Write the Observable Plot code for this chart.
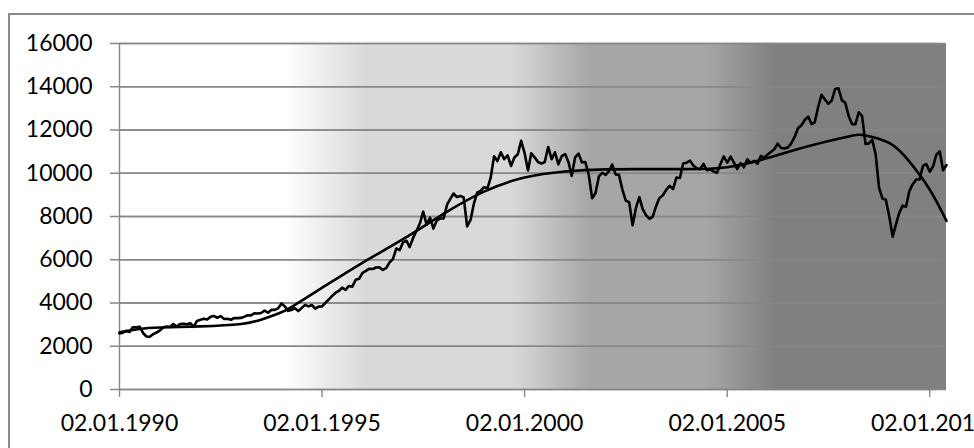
<!DOCTYPE html>
<html><head><meta charset="utf-8">
<script src="https://cdn.jsdelivr.net/npm/d3@7"></script>
<script src="https://cdn.jsdelivr.net/npm/@observablehq/plot@0.6"></script>
<style>
html,body{margin:0;padding:0;background:#fff;overflow:hidden;width:974px;height:448px;}
#chart{position:absolute;left:0;top:0;}
#frame{position:absolute;left:8px;top:13px;width:1000px;height:500px;border:2px solid #898989;pointer-events:none;}
</style></head><body>
<div id="chart"></div><div id="frame"></div>
<script>
// Monthly index values, first point at 02.01.1990
const startDate = "1990-01-02";
const dow1990s = [
  2591,2627,2707,2657,2877,2881,2905,2614,2452,2442,2560,2634,
  2736,2882,2914,2888,3028,2907,3025,3044,3017,3069,2895,3169,
  3223,3268,3235,3359,3397,3319,3394,3257,3272,3226,3305,3301,
  3310,3371,3435,3428,3527,3516,3539,3651,3555,3681,3684,3754,
  3978,3832,3636,3682,3758,3625,3765,3913,3843,3908,3739,3834,
  3844,4011,4158,4321,4465,4556,4708,4611,4789,4755,5074,5117,
  5395,5486,5587,5569,5643,5655,5529,5616,5882,6029,6522,6448,
  6813,6878,6583,7009,7331,7673,8223,7622,7945,7442,7823,7908,
  7907,8546,8800,9063,8900,8952,8883,7539,7843,8592,9117,9181,
  9359,9307,9786,10789,10560,10971,10655,10829,10337,10730,10878,11497
];
const dow2000s = [
  10941,10128,10922,10734,10522,10448,10522,11215,10651,10971,10414,10788,
  10887,10495,9879,10735,10912,10502,10523,9950,8848,9075,9852,10022,
  9920,10106,10404,9946,9925,9243,8737,8664,7592,8397,8896,8342,
  8054,7891,7992,8480,8850,8985,9234,9416,9275,9801,9782,10454,
  10488,10584,10358,10226,10188,10435,10140,10174,10080,10027,10428,10783,
  10490,10766,10504,10193,10467,10275,10641,10482,10569,10440,10806,10718,
  10865,10993,11109,11367,11168,11150,11186,11381,11679,12081,12222,12463,
  12622,12269,12354,13063,13628,13409,13212,13358,13896,13930,13372,13265,
  12650,12266,12263,12820,12638,11350,11378,11544,10851,9325,8829,8776,
  8001,7063,7609,8168,8500,8447,9172,9496,9712,9713,10345,10428
];
const dow2010s = [10067,10325,10857,11009,10137,10380];

// Trend line (polynomial trend)
const trendDates = ["1990-01-02","1990-07-01","1991-01-01","1992-01-01","1993-01-01","1993-07-01","1994-01-01","1994-06-01","1995-01-01","1996-01-01","1997-01-01","1998-01-01","1999-01-01","2000-01-01","2001-01-01","2002-01-01","2003-01-01","2004-01-01","2005-01-01","2006-01-01","2007-01-01","2008-01-01","2008-06-01","2009-01-01","2009-07-01","2010-01-01","2010-06-02"];
const trendValues = [2650,2800,2870,2920,3030,3230,3570,4010,4700,5860,6950,8120,9150,9800,10080,10180,10190,10190,10280,10700,11250,11700,11750,11400,10550,9250,7800];

// Axes
const yTicks = [0,2000,4000,6000,8000,10000,12000,14000,16000];
const xTickDates = ["1990-01-02","1995-01-02","2000-01-02","2005-01-02","2010-01-02"];
const xTickLabels = ["02.01.1990","02.01.1995","02.01.2000","02.01.2005","02.01.2010"];

// Background shading stops (offset along plot width, gray)
const bgOffsets = [0, 0.2, 0.30, 0.475, 0.57, 0.71, 0.795, 1];
const bgColors = ["#ffffff","#ffffff","#d9d9d9","#d9d9d9","#a6a6a6","#a6a6a6","#808080","#808080"];

const closes = dow1990s.concat(dow2000s, dow2010s);
const start = new Date(startDate);
const series = closes.map((v, i) => ({date: d3.utcMonth.offset(start, i), value: v}));
const trend = trendDates.map((d, i) => ({date: new Date(d), value: trendValues[i]}));
const first = series[0].date, last = series[series.length - 1].date;
const xt = xTickDates.map((d, i) => ({date: new Date(d), label: xTickLabels[i], y: 0}));
const yt = yTicks.map(v => ({date: first, value: v}));

const grid = "#878787";
const chart = Plot.plot({
  width: 974, height: 448,
  marginLeft: 119, marginRight: 28, marginTop: 43, marginBottom: 59,
  style: {fontFamily: "Lato, 'Open Sans', sans-serif", background: "transparent", maxWidth: "none"},
  x: {type: "utc", domain: [first, last], axis: null},
  y: {domain: [0, 16000], axis: null},
  marks: [
    Plot.rect([{}], {x1: () => first, x2: () => last, y1: () => 0, y2: () => 16000, fill: "url(#bgGrad)"}),
    Plot.ruleY(yTicks, {stroke: grid, strokeWidth: 1.4}),
    Plot.ruleY(yTicks, {stroke: grid, strokeWidth: 1.4, dx: -9}),
    Plot.ruleX([first], {stroke: grid, strokeWidth: 1.4}),
    Plot.ruleX(xt, {x: "date", y1: "y", y2: "y", insetBottom: -8, stroke: grid, strokeWidth: 1.4}),
    Plot.line(trend, {x: "date", y: "value", curve: "natural", stroke: "black", strokeWidth: 2.6}),
    Plot.line(series, {x: "date", y: "value", stroke: "black", strokeWidth: 2.6, strokeLinejoin: "round"}),
    Plot.text(yt, {x: "date", y: "value", text: d => String(d.value), textAnchor: "end", dx: -27, fontSize: 23, fill: "black"}),
    Plot.text(xt, {x: "date", y: "y", text: "label", dy: 34, fontSize: 23, fill: "black"})
  ]
});

// gradient definition for background
const ns = "http://www.w3.org/2000/svg";
const defs = document.createElementNS(ns, "defs");
const lg = document.createElementNS(ns, "linearGradient");
lg.setAttribute("id", "bgGrad");
lg.setAttribute("x1", "0"); lg.setAttribute("x2", "1");
lg.setAttribute("y1", "0"); lg.setAttribute("y2", "0");
bgOffsets.forEach((o, i) => {
  const s = document.createElementNS(ns, "stop");
  s.setAttribute("offset", o);
  s.setAttribute("stop-color", bgColors[i]);
  lg.appendChild(s);
});
defs.appendChild(lg);
chart.insertBefore(defs, chart.firstChild);
document.getElementById("chart").appendChild(chart);
</script>
</body></html>
